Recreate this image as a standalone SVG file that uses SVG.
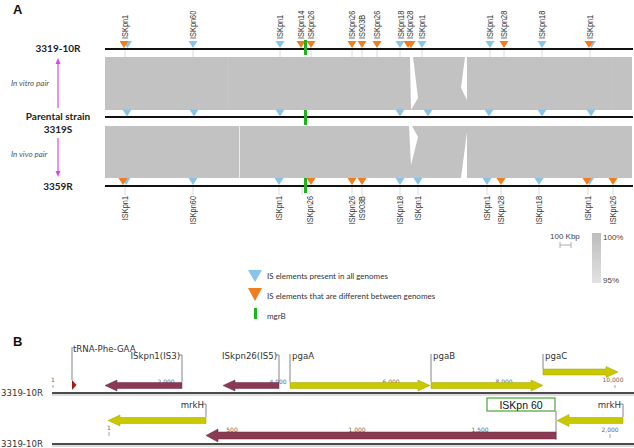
<svg xmlns="http://www.w3.org/2000/svg" xmlns:xlink="http://www.w3.org/1999/xlink" width="634" height="448" viewBox="0 0 634 448">
<style>
.ttl{font-family:"Liberation Sans",Arial,sans-serif;font-weight:bold;font-size:13px;fill:#111}
.strain{font-family:Lato,"Open Sans",sans-serif;font-weight:bold;font-size:10px;fill:#222;text-anchor:middle}
.pair{font-family:Lato,"Open Sans",sans-serif;font-style:italic;font-size:8px;fill:#555}
.is{font-family:"Liberation Sans",Arial,sans-serif;font-size:9px;fill:#333}
.isb{font-family:"Liberation Sans",Arial,sans-serif;font-size:9px;fill:#333;text-anchor:end}
.gline{stroke:#111;stroke-width:2.2}
.band{fill:#c2c2c2}
.blue{fill:#86c4ea}
.orange{fill:#f07d1e}
.mgrb{fill:#1fb21f}
.tick{stroke:#d0d0d0;stroke-width:0.8}
.leg{font-family:Lato,"Open Sans",sans-serif;font-size:8px;fill:#333}
.sc{font-family:"Liberation Sans",Arial,sans-serif;font-size:8px;fill:#444}
.blab{font-family:"DejaVu Sans",sans-serif;font-size:8.6px;fill:#333}
.num{font-family:"DejaVu Sans",sans-serif;font-size:6px;fill:#666;text-anchor:middle}
.lead{stroke:#777;stroke-width:0.9;fill:none}
.trk{stroke:#111;stroke-width:1.6}
.trks{stroke:#bbb;stroke-width:1}
.maroon{fill:#8a3a52;stroke:#6e2a40;stroke-width:0.5}
.yellow{fill:#c9c900;stroke:#a3a300;stroke-width:0.5}
.mag{stroke:#e048e0;stroke-width:1.2;fill:none}
</style>
<defs>
<path id="tri" d="M-4.5,0 L4.5,0 L0,7 Z"/>
<marker id="mh" markerWidth="6" markerHeight="6" refX="3" refY="3" orient="auto" markerUnits="userSpaceOnUse">
<path d="M0,0.5 L6,3 L0,5.5 Z" fill="#e048e0"/>
</marker>
<linearGradient id="idg" x1="0" y1="0" x2="0" y2="1">
<stop offset="0" stop-color="#bdbdbd"/>
<stop offset="1" stop-color="#e2e2e2"/>
</linearGradient>
</defs>

<text class="ttl" x="13" y="14">A</text>
<text class="ttl" x="13" y="346">B</text>

<g id="strain-labels">
<text class="strain" x="58" y="52">3319-10R</text>
<text class="strain" x="58" y="120">Parental strain</text>
<text class="strain" x="58" y="133">3319S</text>
<text class="strain" x="58" y="190">3359R</text>
<text class="pair" x="11" y="86">In vitro pair</text>
<text class="pair" x="11" y="157">In vivo pair</text>
</g>

<g id="connectors">
<line class="mag" x1="58" y1="108" x2="58" y2="61" marker-end="url(#mh)"/>
<line class="mag" x1="58" y1="138" x2="58" y2="174" marker-end="url(#mh)"/>
</g>

<g id="bands">
<rect class="band" x="105" y="57" width="527" height="53"/>
<rect class="band" x="105" y="126" width="527" height="52"/>
<line x1="228" y1="57" x2="228" y2="110" stroke="#cacaca" stroke-width="0.8"/>
<line x1="239.5" y1="126" x2="239.5" y2="178" stroke="#ececec" stroke-width="1"/>
<line x1="612" y1="57" x2="612" y2="110" stroke="#cacaca" stroke-width="0.6"/>
<polygon points="410,57 413,57 418,98 411,110" fill="#fff"/>
<polygon points="465,57 467,57 467,100 461,88" fill="#fff"/>
<polygon points="409,126 412,126 418,137 411,165" fill="#fff"/>
<polygon points="467,132 467,178 461,178" fill="#fff"/>
</g>

<g id="ticks">
<line class="tick" x1="125" y1="49" x2="125" y2="57"/>
<line class="tick" x1="193" y1="49" x2="193" y2="57"/>
<line class="tick" x1="280" y1="49" x2="280" y2="57"/>
<line class="tick" x1="311" y1="49" x2="311" y2="57"/>
<line class="tick" x1="352" y1="49" x2="352" y2="57"/>
<line class="tick" x1="362" y1="49" x2="362" y2="57"/>
<line class="tick" x1="377" y1="49" x2="377" y2="57"/>
<line class="tick" x1="400" y1="49" x2="400" y2="57"/>
<line class="tick" x1="422" y1="49" x2="422" y2="57"/>
<line class="tick" x1="490" y1="49" x2="490" y2="57"/>
<line class="tick" x1="504" y1="49" x2="504" y2="57"/>
<line class="tick" x1="542" y1="49" x2="542" y2="57"/>
<line class="tick" x1="590" y1="49" x2="590" y2="57"/>
<line class="tick" x1="125" y1="187" x2="125" y2="195"/>
<line class="tick" x1="193" y1="187" x2="193" y2="195"/>
<line class="tick" x1="279" y1="187" x2="279" y2="195"/>
<line class="tick" x1="302" y1="187" x2="302" y2="195"/>
<line class="tick" x1="310" y1="187" x2="310" y2="195"/>
<line class="tick" x1="352" y1="187" x2="352" y2="195"/>
<line class="tick" x1="362" y1="187" x2="362" y2="195"/>
<line class="tick" x1="400" y1="187" x2="400" y2="195"/>
<line class="tick" x1="418" y1="187" x2="418" y2="195"/>
<line class="tick" x1="487" y1="187" x2="487" y2="195"/>
<line class="tick" x1="501" y1="187" x2="501" y2="195"/>
<line class="tick" x1="539" y1="187" x2="539" y2="195"/>
<line class="tick" x1="588" y1="187" x2="588" y2="195"/>
<line class="tick" x1="613" y1="187" x2="613" y2="195"/>
</g>

<g id="genome-3319-10R">
<line class="gline" x1="105" y1="49" x2="633" y2="49"/>
<use href="#tri" class="blue" x="127.5" y="41"/>
<use href="#tri" class="orange" x="124" y="41"/>
<use href="#tri" class="blue" x="193" y="41"/>
<use href="#tri" class="blue" x="280" y="41"/>
<use href="#tri" class="orange" x="301" y="41"/>
<use href="#tri" class="orange" x="311" y="41"/>
<use href="#tri" class="orange" x="352" y="41"/>
<use href="#tri" class="orange" x="362" y="41"/>
<use href="#tri" class="orange" x="377" y="41"/>
<use href="#tri" class="blue" x="400" y="41"/>
<use href="#tri" class="orange" x="408" y="41"/>
<use href="#tri" class="orange" x="411" y="41"/>
<use href="#tri" class="blue" x="422" y="41"/>
<use href="#tri" class="blue" x="490" y="41"/>
<use href="#tri" class="orange" x="504" y="41"/>
<use href="#tri" class="blue" x="542" y="41"/>
<use href="#tri" class="blue" x="591.5" y="41"/>
<use href="#tri" class="orange" x="589" y="41"/>
<rect class="mgrb" x="304" y="40" width="3" height="15"/>
<text class="is" transform="translate(128,39) rotate(-90) scale(0.82,1)">ISKpn1</text>
<text class="is" transform="translate(196,39) rotate(-90) scale(0.82,1)">ISKpn60</text>
<text class="is" transform="translate(283,39) rotate(-90) scale(0.82,1)">ISKpn1</text>
<text class="is" transform="translate(304,39) rotate(-90) scale(0.82,1)">ISKpn14</text>
<text class="is" transform="translate(314,39) rotate(-90) scale(0.82,1)">ISKpn26</text>
<text class="is" transform="translate(355,39) rotate(-90) scale(0.82,1)">ISKpn26</text>
<text class="is" transform="translate(365,39) rotate(-90) scale(0.82,1)">IS903B</text>
<text class="is" transform="translate(380,39) rotate(-90) scale(0.82,1)">ISKpn26</text>
<text class="is" transform="translate(404,39) rotate(-90) scale(0.82,1)">ISKpn18</text>
<text class="is" transform="translate(413,39) rotate(-90) scale(0.82,1)">ISKpn28</text>
<text class="is" transform="translate(425,39) rotate(-90) scale(0.82,1)">ISKpn1</text>
<text class="is" transform="translate(493,39) rotate(-90) scale(0.82,1)">ISKpn1</text>
<text class="is" transform="translate(507,39) rotate(-90) scale(0.82,1)">ISKpn28</text>
<text class="is" transform="translate(545,39) rotate(-90) scale(0.82,1)">ISKpn18</text>
<text class="is" transform="translate(593,39) rotate(-90) scale(0.82,1)">ISKpn1</text>
</g>

<g id="genome-3319S">
<line class="gline" x1="105" y1="117" x2="633" y2="117"/>
<use href="#tri" class="blue" x="127" y="109.5"/>
<use href="#tri" class="blue" x="194" y="109.5"/>
<use href="#tri" class="blue" x="280" y="109.5"/>
<use href="#tri" class="blue" x="400" y="109.5"/>
<use href="#tri" class="blue" x="428" y="109.5"/>
<use href="#tri" class="blue" x="489" y="109.5"/>
<use href="#tri" class="blue" x="542" y="109.5"/>
<use href="#tri" class="blue" x="591" y="109.5"/>
<rect class="mgrb" x="304" y="110" width="3" height="15"/>
</g>

<g id="genome-3359R">
<line class="gline" x1="105" y1="186" x2="633" y2="186"/>
<use href="#tri" class="blue" x="126" y="178"/>
<use href="#tri" class="orange" x="123" y="178"/>
<use href="#tri" class="blue" x="193" y="178"/>
<use href="#tri" class="blue" x="279" y="178"/>
<use href="#tri" class="orange" x="311" y="178"/>
<use href="#tri" class="orange" x="352" y="178"/>
<use href="#tri" class="orange" x="362" y="178"/>
<use href="#tri" class="blue" x="400" y="178"/>
<use href="#tri" class="blue" x="418" y="178"/>
<use href="#tri" class="blue" x="487" y="178"/>
<use href="#tri" class="orange" x="501" y="178"/>
<use href="#tri" class="blue" x="539" y="178"/>
<use href="#tri" class="blue" x="589.5" y="178"/>
<use href="#tri" class="orange" x="587" y="178"/>
<use href="#tri" class="orange" x="613" y="178"/>
<rect class="mgrb" x="304" y="178" width="3" height="15"/>
<text class="isb" transform="translate(128,196) rotate(-90) scale(0.82,1)">ISKpn1</text>
<text class="isb" transform="translate(196,196) rotate(-90) scale(0.82,1)">ISKpn60</text>
<text class="isb" transform="translate(282,196) rotate(-90) scale(0.82,1)">ISKpn1</text>
<text class="isb" transform="translate(313,196) rotate(-90) scale(0.82,1)">ISKpn26</text>
<text class="isb" transform="translate(355,196) rotate(-90) scale(0.82,1)">ISKpn26</text>
<text class="isb" transform="translate(365,196) rotate(-90) scale(0.82,1)">IS903B</text>
<text class="isb" transform="translate(403,196) rotate(-90) scale(0.82,1)">ISKpn18</text>
<text class="isb" transform="translate(421,196) rotate(-90) scale(0.82,1)">ISKpn1</text>
<text class="isb" transform="translate(490,196) rotate(-90) scale(0.82,1)">ISKpn1</text>
<text class="isb" transform="translate(504,196) rotate(-90) scale(0.82,1)">ISKpn28</text>
<text class="isb" transform="translate(542,196) rotate(-90) scale(0.82,1)">ISKpn18</text>
<text class="isb" transform="translate(591,196) rotate(-90) scale(0.82,1)">ISKpn1</text>
<text class="isb" transform="translate(616,196) rotate(-90) scale(0.82,1)">ISKpn26</text>
</g>

<g id="scale">
<text class="sc" x="550" y="239">100 Kbp</text>
<line x1="560" y1="245" x2="571" y2="245" stroke="#999" stroke-width="0.8"/>
<line x1="560" y1="242" x2="560" y2="248" stroke="#999" stroke-width="0.8"/>
<line x1="571" y1="242" x2="571" y2="248" stroke="#999" stroke-width="0.8"/>
<rect x="592" y="233" width="9" height="50" fill="url(#idg)"/>
<text class="sc" x="603" y="240">100%</text>
<text class="sc" x="603" y="283">95%</text>
</g>

<g id="legend">
<polygon class="blue" points="248,270 262,270 255,282"/>
<text class="leg" x="267" y="279">IS elements present in all genomes</text>
<polygon class="orange" points="248,288 262,288 255,301"/>
<text class="leg" x="267" y="299">IS elements that are different between genomes</text>
<rect class="mgrb" x="254" y="308" width="3" height="11"/>
<text class="leg" x="267" y="319">mgrB</text>
</g>

<g id="track1">
<line class="trks" x1="52" y1="395" x2="634" y2="395"/>
<line class="trk" x1="52" y1="393" x2="634" y2="393"/>
<text class="blab" x="1" y="396">3319-10R</text>
<text class="num" x="53" y="382">1</text>
<line x1="53" y1="385" x2="53" y2="388" stroke="#666" stroke-width="0.6"/>
<text class="num" x="166" y="384">2,000</text>
<text class="num" x="278" y="384">4,000</text>
<text class="num" x="391" y="384">6,000</text>
<text class="num" x="504" y="384">8,000</text>
<text class="num" x="613" y="382">10,000</text>
<line x1="615" y1="385" x2="615" y2="388" stroke="#666" stroke-width="0.6"/>
</g>

<g id="tRNA-Phe-GAA">
<polyline class="lead" points="72,380 72,347"/>
<polygon points="72,380 76.5,385 72,390" fill="#a51818"/>
<text class="blab" x="73" y="352">tRNA-Phe-GAA</text>
</g>
<g id="ISkpn1-IS3">
<polyline class="lead" points="179,355 182,355 182,382"/>
<polygon class="maroon" points="105,385.5 117,380 117,382.5 182,382.5 182,388.5 117,388.5 117,391"/>
<text class="blab" x="180" y="359" text-anchor="end">ISkpn1(IS3)</text>
</g>
<g id="ISkpn26-IS5">
<polyline class="lead" points="276,355 279,355 279,382"/>
<polygon class="maroon" points="223,385.5 235,380 235,382.5 279,382.5 279,388.5 235,388.5 235,391"/>
<text class="blab" x="277" y="359" text-anchor="end">ISkpn26(IS5)</text>
</g>
<g id="pgaA">
<polyline class="lead" points="290,382 290,354"/>
<polygon class="yellow" points="290,382.5 418,382.5 418,380 430,385.5 418,391 418,388.5 290,388.5"/>
<text class="blab" x="292" y="359">pgaA</text>
</g>
<g id="pgaB">
<polyline class="lead" points="431,382 431,354"/>
<polygon class="yellow" points="431,382.5 531,382.5 531,380 543,385.5 531,391 531,388.5 431,388.5"/>
<text class="blab" x="433" y="359">pgaB</text>
</g>
<g id="pgaC">
<polyline class="lead" points="543,369 543,354"/>
<polygon class="yellow" points="543,369 606,369 606,366.5 618,372 606,377.5 606,375 543,375"/>
<text class="blab" x="545" y="359">pgaC</text>
</g>

<g id="track2">
<line class="trks" x1="52" y1="446" x2="634" y2="446"/>
<line class="trk" x1="52" y1="444" x2="634" y2="444"/>
<text class="blab" x="1" y="447">3319-10R</text>
<text class="num" x="109" y="430">1</text>
<line x1="109" y1="432" x2="109" y2="436" stroke="#666" stroke-width="0.6"/>
<text class="num" x="232" y="432">500</text>
<text class="num" x="357" y="432">1,000</text>
<text class="num" x="480" y="432">1,500</text>
<text class="num" x="610" y="432">2,000</text>
<line x1="610" y1="434" x2="610" y2="438" stroke="#666" stroke-width="0.6"/>
</g>

<g id="mrkH-left">
<polyline class="lead" points="203,404 206,404 206,417"/>
<polygon class="yellow" points="108,420.5 120,415 120,417.5 206,417.5 206,423.5 120,423.5 120,426"/>
<text class="blab" x="204" y="408" text-anchor="end">mrkH</text>
</g>
<g id="ISKpn60">
<polyline class="lead" points="556,411 556,440"/>
<polygon class="maroon" points="206,435.5 218,429 218,432 556,432 556,439 218,439 218,442"/>
<rect x="487" y="398" width="68" height="13" fill="#fff" stroke="#44a833" stroke-width="1.2"/>
<text x="521" y="408.5" text-anchor="middle" font-family="Liberation Sans, Arial, sans-serif" font-size="10.5" fill="#111">ISKpn 60</text>
</g>
<g id="mrkH-right">
<polyline class="lead" points="620,404 623,404 623,417"/>
<polygon class="yellow" points="557,420.5 569,414.5 569,417.5 623,417.5 623,423.5 569,423.5 569,426.5"/>
<text class="blab" x="621" y="408" text-anchor="end">mrkH</text>
</g>
</svg>
